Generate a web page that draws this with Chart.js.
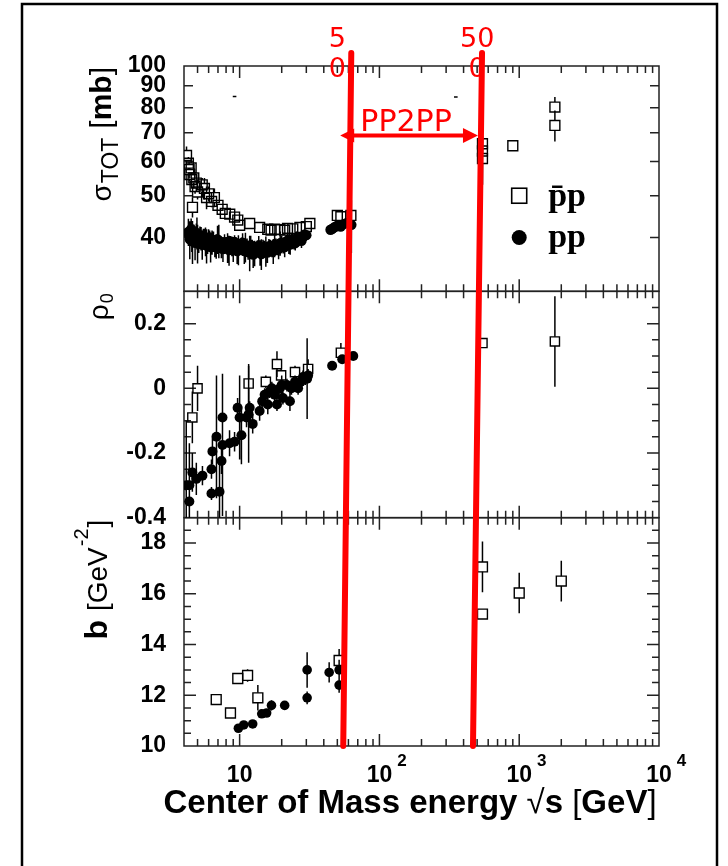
<!DOCTYPE html>
<html>
<head>
<meta charset="utf-8">
<title>sigma_tot, rho, b vs sqrt(s)</title>
<script src="https://cdn.jsdelivr.net/npm/chart.js@4.4.1/dist/chart.umd.min.js"></script>
<style>
  html, body { margin: 0; padding: 0; background: #fff; }
  #wrap { position: relative; width: 728px; height: 866px; }
</style>
</head>
<body>
<div id="wrap"><canvas id="grafico" width="728" height="866"></canvas></div>
<script>
// ===============================
//   DATA
// ===============================
// sigma_tot [mb], pbar-p (open squares)
const sigPbarE = [4.17, 4.3, 4.35, 4.4, 4.5, 4.55, 4.6, 4.7, 4.8, 4.9,
                  5.0, 5.4, 5.6, 5.8, 6.0, 6.3, 6.6, 7.0, 7.5, 7.9,
                  8.5, 9.2, 9.7, 10.0, 11.8, 13.9, 15.9, 16.8, 17.8, 19.4,
                  21, 22, 24, 27, 30, 31.8, 50, 53, 62.5, 546,
                  546, 546, 900, 1800, 1800];
const sigPbarS = [62, 59.5, 57.5, 56, 58, 54.5, 47, 55, 52.5, 53.5,
                  51, 53, 52, 49.5, 50.5, 48.5, 49.5, 47.5, 46.5, 45.5,
                  45.3, 44.6, 43.9, 42.7, 43.1, 42.2, 41.8, 41.6, 41.8, 41.7,
                  41.6, 42.0, 41.9, 42.2, 42.4, 43.1, 45.0, 44.7, 45.0, 61,
                  63.5, 66, 65.3, 80.3, 72.8];
const sigPbarErr = [3, 2, 2.5, 2, 3, 2, 2.5, 3, 2, 2.5,
                    2, 2, 3, 3, 2, 1.5, 2.5, 1, 1, 1,
                    1, 1, 0.8, 0.8, 0.8, 0.8, 0.6, 0.6, 0.6, 0.6,
                    0.5, 0.5, 0.5, 0.6, 0.5, 0.8, 0.8, 0.8, 0.8, 8,
                    1.2, 1.2, 0, 4.4, 6];

// sigma_tot [mb], pp (full circles)
const sigPpE = [4.3, 4.4, 4.5, 4.6, 4.7, 4.8, 4.9, 5.0, 5.2, 5.4,
                5.6, 5.8, 6.0, 6.2, 6.5, 6.8, 7.1, 7.4, 7.8, 8.2,
                8.6, 9.0, 9.4, 9.8, 10.3, 10.8, 11.3, 11.8, 12.3, 12.8,
                13.4, 14.0, 14.7, 15.4, 16.2, 17.0, 17.8, 18.6, 19.5, 20.5,
                21.5, 22.5, 23.5, 24.5, 25.6, 27.0, 28.5, 30.0,
                4.35, 4.55, 4.75, 4.95, 5.1, 5.3, 5.5, 5.7, 5.9, 6.1,
                6.35, 6.65, 6.95, 7.25, 7.6, 8.0, 8.4, 8.8, 9.2, 9.6,
                10.0, 10.5, 11.0, 11.5, 12.0, 12.5, 13.1, 13.7, 14.3, 15.0,
                15.8, 16.6, 17.4, 18.2, 19.0, 20.0, 21.0, 22.0, 23.0, 24.0,
                25.0, 26.3, 27.7, 29.2,
                44.7, 46, 48, 50, 52.8, 55, 58, 63];
const sigPpS = [41.2, 39.6, 41.8, 39.2, 40.9, 38.9, 40.6, 38.8, 40.4, 38.5,
                40.1, 38.3, 39.8, 38.0, 39.5, 38.2, 39.3, 37.8, 38.9, 37.9,
                38.8, 37.6, 38.6, 37.5, 38.5, 37.2, 38.3, 36.9, 38.0, 36.8,
                37.9, 36.9, 38.0, 37.2, 38.2, 37.5, 38.5, 37.9, 38.8, 38.2,
                39.1, 38.6, 39.4, 39.0, 39.8, 39.5, 40.2, 40.5,
                40.5, 40.0, 39.5, 41.0, 38.8, 39.8, 40.4, 39.2, 38.6, 40.0,
                39.0, 38.0, 39.6, 38.6, 37.6, 38.6, 37.4, 38.2, 39.0, 37.2,
                37.9, 38.9, 38.0, 37.0, 38.4, 36.5, 37.4, 38.3, 36.6, 37.8,
                36.9, 38.0, 37.2, 38.3, 37.6, 38.9, 38.0, 39.3, 38.5, 39.6,
                38.8, 40.0, 39.3, 40.6,
                41.7, 41.9, 42.3, 42.6, 42.4, 42.9, 43.2, 42.8];
const sigPpErr = [3, 4, 2.5, 4.5, 2, 3.5, 2.5, 4, 2, 3,
                  1.8, 3.5, 2, 3, 1.8, 2.5, 3.5, 2, 1.8, 3,
                  1.5, 2.5, 1.5, 3, 1.5, 2.5, 1.5, 3.5, 1.5, 2.5,
                  1.5, 2.5, 1.5, 3, 1.5, 1.5, 2.5, 1.5, 2.5, 1.5,
                  1.5, 2, 1.5, 1.5, 1.5, 1.2, 1.5, 1.2,
                  2, 3, 1.5, 3.5, 2, 2.5, 1.5, 3, 2, 1.5,
                  2.5, 2, 3, 1.5, 2.5, 1.5, 3, 2, 1.5, 2.5,
                  1.5, 2, 3, 1.5, 2, 2.5, 1.5, 2, 3, 1.5,
                  2, 1.5, 2.5, 1.5, 2, 1.5, 2, 1.5, 2, 1.5,
                  1.5, 1.2, 1.5, 1.2,
                  0.5, 0.6, 0.7, 0.6, 0.6, 0.7, 0.9, 6];

// two tiny stray marks in the upper panel
const dashE = [9.2, 352];
const dashS = [85, 84.7];

// rho_0, pp
const rhoPpE = [4.15, 4.37, 4.37, 4.59, 4.9, 5.42, 6.29, 6.29, 6.39, 6.83,
                7.18, 7.42, 7.54, 7.54, 8.47, 9.2, 9.67, 10, 10.3, 11.2,
                11.6, 11.8, 12.4, 13.9, 14.5, 15.1, 15.9, 16.4, 17.0, 17.8,
                18.5, 19.4, 20, 20.4, 21.8, 22.9, 23.5, 24.9, 26.2, 27.3,
                28.4, 29.5, 30.4, 30.9, 45.9, 54.2, 65];
const rhoPpV = [-0.30, -0.35, -0.30, -0.26, -0.28, -0.27, -0.25, -0.325, -0.195, -0.15,
                -0.32, -0.225, -0.09, -0.175, -0.17, -0.165, -0.06, -0.09, -0.145, -0.09,
                -0.08, -0.06, -0.11, -0.07, -0.04, -0.02, -0.05, -0.01, 0.0, -0.02,
                -0.05, 0.0, 0.01, -0.03, 0.01, -0.04, 0.0, 0.02, 0.0, 0.02,
                0.035, 0.03, 0.03, 0.04, 0.07, 0.09, 0.10];
const rhoPpErr = [0.2, 0.04, 0.13, 0.06, 0.05, 0.03, 0.03, 0.02, 0.04, 0.19,
                  0.1, 0.04, 0.03, 0.22, 0.04, 0.03, 0.03, 0.13, 0.09, 0.03,
                  0.15, 0.02, 0.03, 0.03, 0.03, 0.02, 0.03, 0.02, 0.02, 0.03,
                  0.02, 0.02, 0.03, 0.02, 0.02, 0.03, 0.02, 0.02, 0.02, 0.02,
                  0.02, 0.02, 0.125, 0.02, 0.01, 0.01, 0.01];

// rho_0, pbar-p
const rhoPbarE = [4.59, 5.0, 11.6, 15.4, 18.5, 19.8, 24.9, 30.9, 53, 546, 1800];
const rhoPbarV = [-0.09, 0.0, 0.015, 0.02, 0.075, 0.04, 0.05, 0.06, 0.11, 0.14, 0.145];
const rhoPbarErr = [0.08, 0.07, 0.06, 0.02, 0.04, 0.02, 0.02, 0.03, 0.03, 0.01, 0.14];

// slope b [GeV^-2]
const bPbarE = [6.8, 8.6, 9.7, 11.4, 13.5, 51.5, 546, 546, 1000, 2000];
const bPbarV = [11.83, 11.3, 12.66, 12.78, 11.9, 13.37, 17.06, 15.2, 16.03, 16.5];
const bPbarErr = [0.1, 0.15, 0.15, 0.25, 0.5, 0.45, 1.0, 0.1, 0.8, 0.8];
const bPpE = [9.8, 10.7, 12.4, 14.4, 15.6, 16.9, 21, 30.4, 30.4, 43.7, 51.5, 51.5];
const bPpV = [10.7, 10.83, 10.87, 11.27, 11.3, 11.6, 11.6, 13.0, 11.9, 12.9, 13.0, 12.4];
const bPpErr = [0.15, 0.12, 0.15, 0.15, 0.15, 0.2, 0.1, 0.7, 0.25, 0.4, 0.4, 0.3];

// tick labels
const xDecades = [1, 2, 3, 4];                 // 10^k labels
const sigTickVals = [40, 50, 60, 70, 80, 90, 100];
const rhoTickVals = [-0.4, -0.2, 0, 0.2];
const bTickVals = [10, 12, 14, 16, 18];

// red hand-drawn annotations (in sqrt(s) units)
const redTop = [62.9, 542];
const redBottom = [55.1, 467];
const redLabelAt = [50, 500];
const redLabels = [["5", "0"], ["50", "0"]];
const arrowFrom = 52.4, arrowTo = 507, arrowSigma = 69;
const arrowText = "PP2PP";

const FONT = "'Liberation Sans', Arial, Helvetica, sans-serif";

// ===============================
//   HELPERS
// ===============================
function pts(xs, ys) {
  return xs.map((x, i) => ({ x: x, y: ys[i] }));
}

function openSet(label, axis, xs, ys, errs, r) {
  return {
    label, yAxisID: axis, data: pts(xs, ys), errors: errs,
    pointStyle: 'rect', pointRadius: r, pointHoverRadius: r,
    borderColor: '#000', borderWidth: 1.4, backgroundColor: 'rgba(0,0,0,0)'
  };
}

function fullSet(label, axis, xs, ys, errs, r) {
  return {
    label, yAxisID: axis, data: pts(xs, ys), errors: errs,
    pointStyle: 'circle', pointRadius: r, pointHoverRadius: r,
    borderColor: '#000', borderWidth: 0, backgroundColor: '#000'
  };
}

// text made of pieces with own font and baseline shift
function drawRich(ctx, pieces, x, y, rotated, align) {
  ctx.save();
  ctx.translate(x, y);
  if (rotated) ctx.rotate(-Math.PI / 2);
  ctx.textBaseline = 'alphabetic';
  ctx.textAlign = 'left';
  let total = 0;
  pieces.forEach(p => { ctx.font = p.font; total += ctx.measureText(p.text).width + (p.gap || 0); });
  let cx = align === 'end' ? -total : (align === 'center' ? -total / 2 : 0);
  pieces.forEach(p => {
    ctx.font = p.font;
    cx += (p.gap || 0);
    ctx.fillText(p.text, cx, p.dy || 0);
    cx += ctx.measureText(p.text).width;
  });
  ctx.restore();
}

// ===============================
//   PLUGINS
// ===============================
const panelIds = ['ySig', 'yRho', 'yB'];

function yMarks(id) {
  const out = [];
  if (id === 'ySig') {
    [40, 50, 60, 70, 80, 90].forEach(v => out.push({ v, len: 9 }));
  } else if (id === 'yRho') {
    for (let i = -7; i <= 5; i++) {
      out.push({ v: i * 0.05, len: (i % 4 === 0) ? 12 : 7 });
    }
  } else {
    for (let i = 21; i <= 37; i++) {
      out.push({ v: i * 0.5, len: (i % 4 === 0) ? 12 : 7 });
    }
  }
  return out;
}

function xMarks() {
  const out = [];
  for (let k = 0; k <= 3; k++) {
    for (let m = 1; m <= 9; m++) {
      const v = m * Math.pow(10, k);
      if (v > 4 && v < 10000) out.push({ v, len: m === 1 ? 12 : 7 });
    }
  }
  return out;
}

const framesAndErrors = {
  id: 'framesAndErrors',
  beforeDatasetsDraw(chart) {
    const { ctx, scales } = chart;
    const xs = scales.x;
    ctx.save();
    ctx.strokeStyle = '#222';
    ctx.lineWidth = 1.5;
    panelIds.forEach(id => {
      const ys = scales[id];
      ctx.strokeRect(xs.left, ys.top, xs.right - xs.left, ys.bottom - ys.top);
      ctx.beginPath();
      xMarks().forEach(t => {
        const px = xs.getPixelForValue(t.v);
        ctx.moveTo(px, ys.bottom); ctx.lineTo(px, ys.bottom - t.len);
        ctx.moveTo(px, ys.top); ctx.lineTo(px, ys.top + t.len);
      });
      yMarks(id).forEach(t => {
        const py = ys.getPixelForValue(t.v);
        ctx.moveTo(xs.left, py); ctx.lineTo(xs.left + t.len, py);
        ctx.moveTo(xs.right, py); ctx.lineTo(xs.right - t.len, py);
      });
      ctx.stroke();
    });

    // error bars
    ctx.strokeStyle = '#000';
    ctx.lineWidth = 1.5;
    chart.data.datasets.forEach(ds => {
      if (!ds.errors) return;
      const ys = scales[ds.yAxisID];
      const gap = ds.pointStyle === 'rect' ? ds.pointRadius * Math.SQRT1_2 : 0;
      ctx.beginPath();
      ds.data.forEach((p, j) => {
        const e = ds.errors[j];
        if (!e) return;
        const px = xs.getPixelForValue(p.x);
        const py = ys.getPixelForValue(p.y);
        const y1 = Math.max(ys.top, ys.getPixelForValue(p.y + e));
        const y2 = Math.min(ys.bottom, ys.getPixelForValue(p.y - e));
        if (py - gap > y1) { ctx.moveTo(px, y1); ctx.lineTo(px, py - gap); }
        if (py + gap < y2) { ctx.moveTo(px, py + gap); ctx.lineTo(px, y2); }
      });
      ctx.stroke();
    });
    ctx.restore();
  },

  afterDatasetsDraw(chart) {
    const { ctx, scales, chartArea } = chart;
    const xs = scales.x, ys = scales.ySig;

    // legend inside the upper panel
    ctx.save();
    const lx = xs.getPixelForValue(1000);
    const ly1 = ys.getPixelForValue(50), ly2 = ys.getPixelForValue(40);
    ctx.strokeStyle = '#000'; ctx.lineWidth = 1.6;
    ctx.strokeRect(lx - 7.5, ly1 - 7.5, 15, 15);
    ctx.fillStyle = '#000';
    ctx.beginPath(); ctx.arc(lx, ly2, 7.5, 0, Math.PI * 2); ctx.fill();
    ctx.font = "bold 34px 'Liberation Serif', 'Times New Roman', serif";
    ctx.textBaseline = 'alphabetic';
    ctx.fillText('p\u0304p', lx + 29, ly1 + 10);
    ctx.fillText('pp', lx + 29, ly2 + 10);
    ctx.restore();

    // red annotations
    ctx.save();
    ctx.strokeStyle = '#ff0000';
    ctx.fillStyle = '#ff0000';
    ctx.lineCap = 'round';
    ctx.lineWidth = 6;
    redTop.forEach((v, i) => {
      ctx.beginPath();
      ctx.moveTo(xs.getPixelForValue(v), chartArea.top - 13);
      ctx.lineTo(xs.getPixelForValue(redBottom[i]), chartArea.bottom);
      ctx.stroke();
    });
    ctx.font = "27px 'DejaVu Sans', sans-serif";
    ctx.textAlign = 'center';
    ctx.textBaseline = 'alphabetic';
    redLabels.forEach((lines, i) => {
      const cx = xs.getPixelForValue(redLabelAt[i]);
      ctx.fillText(lines[0], cx, chartArea.top - 19);
      ctx.fillText(lines[1], cx, chartArea.top + 11);
    });
    const ax1 = xs.getPixelForValue(arrowFrom), ax2 = xs.getPixelForValue(arrowTo);
    const ay = ys.getPixelForValue(arrowSigma);
    ctx.lineWidth = 4;
    ctx.lineCap = 'butt';
    ctx.beginPath(); ctx.moveTo(ax1 + 10, ay); ctx.lineTo(ax2 - 10, ay); ctx.stroke();
    ctx.beginPath();
    ctx.moveTo(ax1, ay); ctx.lineTo(ax1 + 14, ay - 7); ctx.lineTo(ax1 + 14, ay + 7); ctx.closePath();
    ctx.moveTo(ax2, ay); ctx.lineTo(ax2 - 15, ay - 7.5); ctx.lineTo(ax2 - 15, ay + 7.5); ctx.closePath();
    ctx.fill();
    ctx.font = "30px 'DejaVu Sans', sans-serif";
    ctx.fillText(arrowText, (ax1 + ax2) / 2 - 3, ay - 4);
    ctx.restore();
  },

  afterDraw(chart) {
    const { ctx, scales } = chart;
    const xs = scales.x;
    ctx.save();
    ctx.fillStyle = '#000';

    // x tick labels 10, 10^2 ...
    xDecades.forEach(k => {
      const px = xs.getPixelForValue(Math.pow(10, k));
      ctx.font = 'bold 23px ' + FONT;
      ctx.textAlign = 'center';
      ctx.textBaseline = 'alphabetic';
      ctx.fillText('10', px, xs.top + 36);
      if (k > 1) {
        const w = ctx.measureText('10').width;
        ctx.font = 'bold 17px ' + FONT;
        ctx.textAlign = 'left';
        ctx.fillText(String(k), px + w / 2 + 5, xs.top + 20);
      }
    });

    // x axis title
    const B = 'bold 33px ' + FONT, R = '33px ' + FONT;
    drawRich(ctx, [
      { text: 'Center of Mass energy ', font: B },
      { text: '\u221A', font: R },
      { text: 's ', font: B },
      { text: '[', font: R },
      { text: 'GeV', font: B },
      { text: ']', font: R }
    ], 410, xs.top + 67, false, 'center');

    // y axis titles
    const s1 = scales.ySig, s2 = scales.yRho, s3 = scales.yB;
    drawRich(ctx, [
      { text: '\u03C3', font: '28px ' + FONT },
      { text: 'TOT', font: '23px ' + FONT, dy: 7, gap: 1 },
      { text: '[', font: '30px ' + FONT, gap: 9 },
      { text: 'mb', font: 'bold 30px ' + FONT },
      { text: ']', font: '30px ' + FONT }
    ], 111, s1.top + 1, true, 'end');
    drawRich(ctx, [
      { text: '\u03C1', font: '28px ' + FONT },
      { text: '0', font: '18px ' + FONT, dy: 5, gap: 1 }
    ], 108, s2.top + 2, true, 'end');
    drawRich(ctx, [
      { text: 'b', font: 'bold 32px ' + FONT },
      { text: '[', font: '28px ' + FONT, gap: 9 },
      { text: 'GeV', font: '28px ' + FONT },
      { text: '-2', font: '20px ' + FONT, dy: -19, gap: 1 },
      { text: ']', font: '28px ' + FONT, gap: 1 }
    ], 107, s3.top + 2, true, 'end');

    // outer frame
    ctx.strokeStyle = '#000';
    ctx.lineWidth = 2.5;
    ctx.beginPath();
    ctx.moveTo(22, 866); ctx.lineTo(22, 4); ctx.lineTo(717, 4); ctx.lineTo(717, 866);
    ctx.stroke();
    ctx.restore();
  }
};

// ===============================
//   CHART
// ===============================
function yScale(type, min, max, weight, tickVals, fmt) {
  return {
    type, min, max,
    position: 'left',
    stack: 'panels',
    stackWeight: weight,
    offset: false,
    grid: { display: false, drawTicks: false },
    border: { display: false },
    afterBuildTicks: s => { s.ticks = tickVals.map(v => ({ value: v })); },
    afterFit: s => { s.width = 184; },
    ticks: {
      autoSkip: false,
      padding: 18,
      color: '#000',
      font: { family: FONT, size: 23, weight: 'bold' },
      callback: fmt
    }
  };
}

// stacked axes are placed bottom-up, so the lowest panel comes first
const chart = new Chart(document.getElementById('grafico'), {
  type: 'scatter',
  data: {
    datasets: [
      openSet('pbar p sigma', 'ySig', sigPbarE, sigPbarS, sigPbarErr, 7),
      fullSet('pp sigma', 'ySig', sigPpE, sigPpS, sigPpErr, 5.2),
      {
        label: 'marks', yAxisID: 'ySig', data: pts(dashE, dashS),
        pointStyle: 'line', pointRadius: 1.8, borderColor: '#000', borderWidth: 1.5
      },
      openSet('pbar p rho', 'yRho', rhoPbarE, rhoPbarV, rhoPbarErr, 6.5),
      fullSet('pp rho', 'yRho', rhoPpE, rhoPpV, rhoPpErr, 5),
      openSet('pbar p b', 'yB', bPbarE, bPbarV, bPbarErr, 7),
      fullSet('pp b', 'yB', bPpE, bPpV, bPpErr, 4.8)
    ]
  },
  options: {
    responsive: false,
    animation: false,
    events: [],
    layout: { padding: { top: 66, right: 69, bottom: 0, left: 0 } },
    plugins: { legend: { display: false }, tooltip: { enabled: false } },
    scales: {
      x: {
        type: 'logarithmic', min: 4, max: 10000,
        grid: { display: false, drawTicks: false },
        border: { display: false },
        ticks: { display: false },
        afterFit: s => { s.height = 120; }
      },
      yB: yScale('linear', 10, 19, 228, bTickVals, v => String(v)),
      yRho: yScale('linear', -0.4, 0.3, 226, rhoTickVals, v => (Math.abs(v) < 1e-9 ? '0' : v.toFixed(1))),
      ySig: yScale('logarithmic', 30, 100, 225, sigTickVals, v => String(v))
    }
  },
  plugins: [framesAndErrors]
});
</script>
</body>
</html>
